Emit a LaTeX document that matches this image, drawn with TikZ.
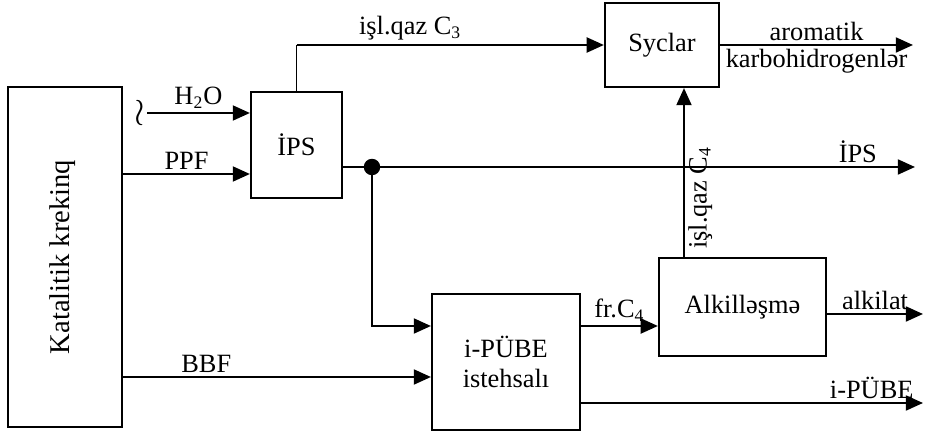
\documentclass[tikz,border=0pt]{standalone}
\usepackage{fontspec}
\setmainfont{Liberation Serif}
\usetikzlibrary{arrows.meta,calc}

\begin{document}
\begin{tikzpicture}[x=0.455pt,y=-0.455pt,
  blok/.style={draw,line width=1pt,align=center,inner sep=1pt,font=\fontsize{12}{14}\selectfont},
  axin/.style={line width=1pt,-{Triangle[length=7.8pt,width=6.8pt]}},
  lbl/.style={font=\fontsize{12}{14}\selectfont,inner sep=1.5pt}]
  \useasboundingbox (0,0) rectangle (932,431);

  % Bloklar
  \node[blok,minimum width=51.9pt,minimum height=154.7pt] (kat) at (65,257) {};
  \node[rotate=90,font=\fontsize{13}{15}\selectfont] (kattxt) at (63,257) {Katalitik krekinq};
  \node[blok,minimum width=41.4pt,minimum height=48.2pt] (ips) at (296.5,145) {İPS};
  \node[blok,minimum width=51.9pt,minimum height=38.2pt] (syc) at (662,45) {Syclar};
  \node[blok,minimum width=67.3pt,minimum height=61.9pt] (pube) at (506,362) {i-PÜBE\\istehsalı};
  \node[blok,minimum width=76pt,minimum height=44.6pt] (alk) at (742.5,307) {Alkilləşmə};

  % Giris axinlari
  \coordinate (wat) at (147,113);
  \coordinate (ppf) at (0,174);
  \coordinate (bbf) at (0,377);
  \coordinate (lvl) at (0,326);
  \node[font=\fontsize{18}{18}\selectfont,inner sep=0pt] (wave) at (140,113) {$\wr$};
  \draw[axin] (wat) -- (ips.west |- wat) node[lbl,midway,above] {H\textsubscript{2}O};
  \draw[axin] (kat.east |- ppf) -- (ips.west |- ppf) node[lbl,midway,above] {PPF};
  \draw[axin] (kat.east |- bbf) -- (pube.west |- bbf) node[lbl,pos=0.27,above] {BBF};

  % IPS-den cixan axinlar
  \draw[line width=0.5pt] (ips.north) -- (ips.north |- syc.west);
  \draw[axin] (ips.north |- syc.west) -- (syc.west) node[lbl,pos=0.37,above] {işl.qaz C\textsubscript{3}};
  \coordinate (ipsout) at (915,167);
  \node[circle,fill,inner sep=0pt,minimum size=7.5pt] (jn) at (372,167) {};
  \draw[axin] (ips.east |- ipsout) -- (ipsout) node[lbl,pos=0.9,above] {İPS};
  \draw[axin] (jn.center) |- (pube.west |- lvl);

  % Mehsullar
  \coordinate (aro) at (913,45);
  \draw[axin] (syc.east) -- (aro) node[lbl,midway,above] {aromatik} node[lbl,midway,below] {karbohidrogenlər};
  \draw[axin] (pube.east |- lvl) -- (alk.west |- lvl) node[lbl,midway,above] {fr.C\textsubscript{4}};
  \coordinate (alkout) at (923,314);
  \draw[axin] (alk.east |- alkout) -- (alkout) node[lbl,midway,above] {alkilat};
  \coordinate (pubeout) at (923,403);
  \draw[axin] (pube.east |- pubeout) -- (pubeout) node[lbl,pos=0.85,above] {i-PÜBE};
  \coordinate (c4) at (684,0);
  \draw[axin] (alk.north -| c4) -- (syc.south -| c4) node[lbl,pos=0.35,sloped,below] {işl.qaz C\textsubscript{4}};
\end{tikzpicture}
\end{document}
